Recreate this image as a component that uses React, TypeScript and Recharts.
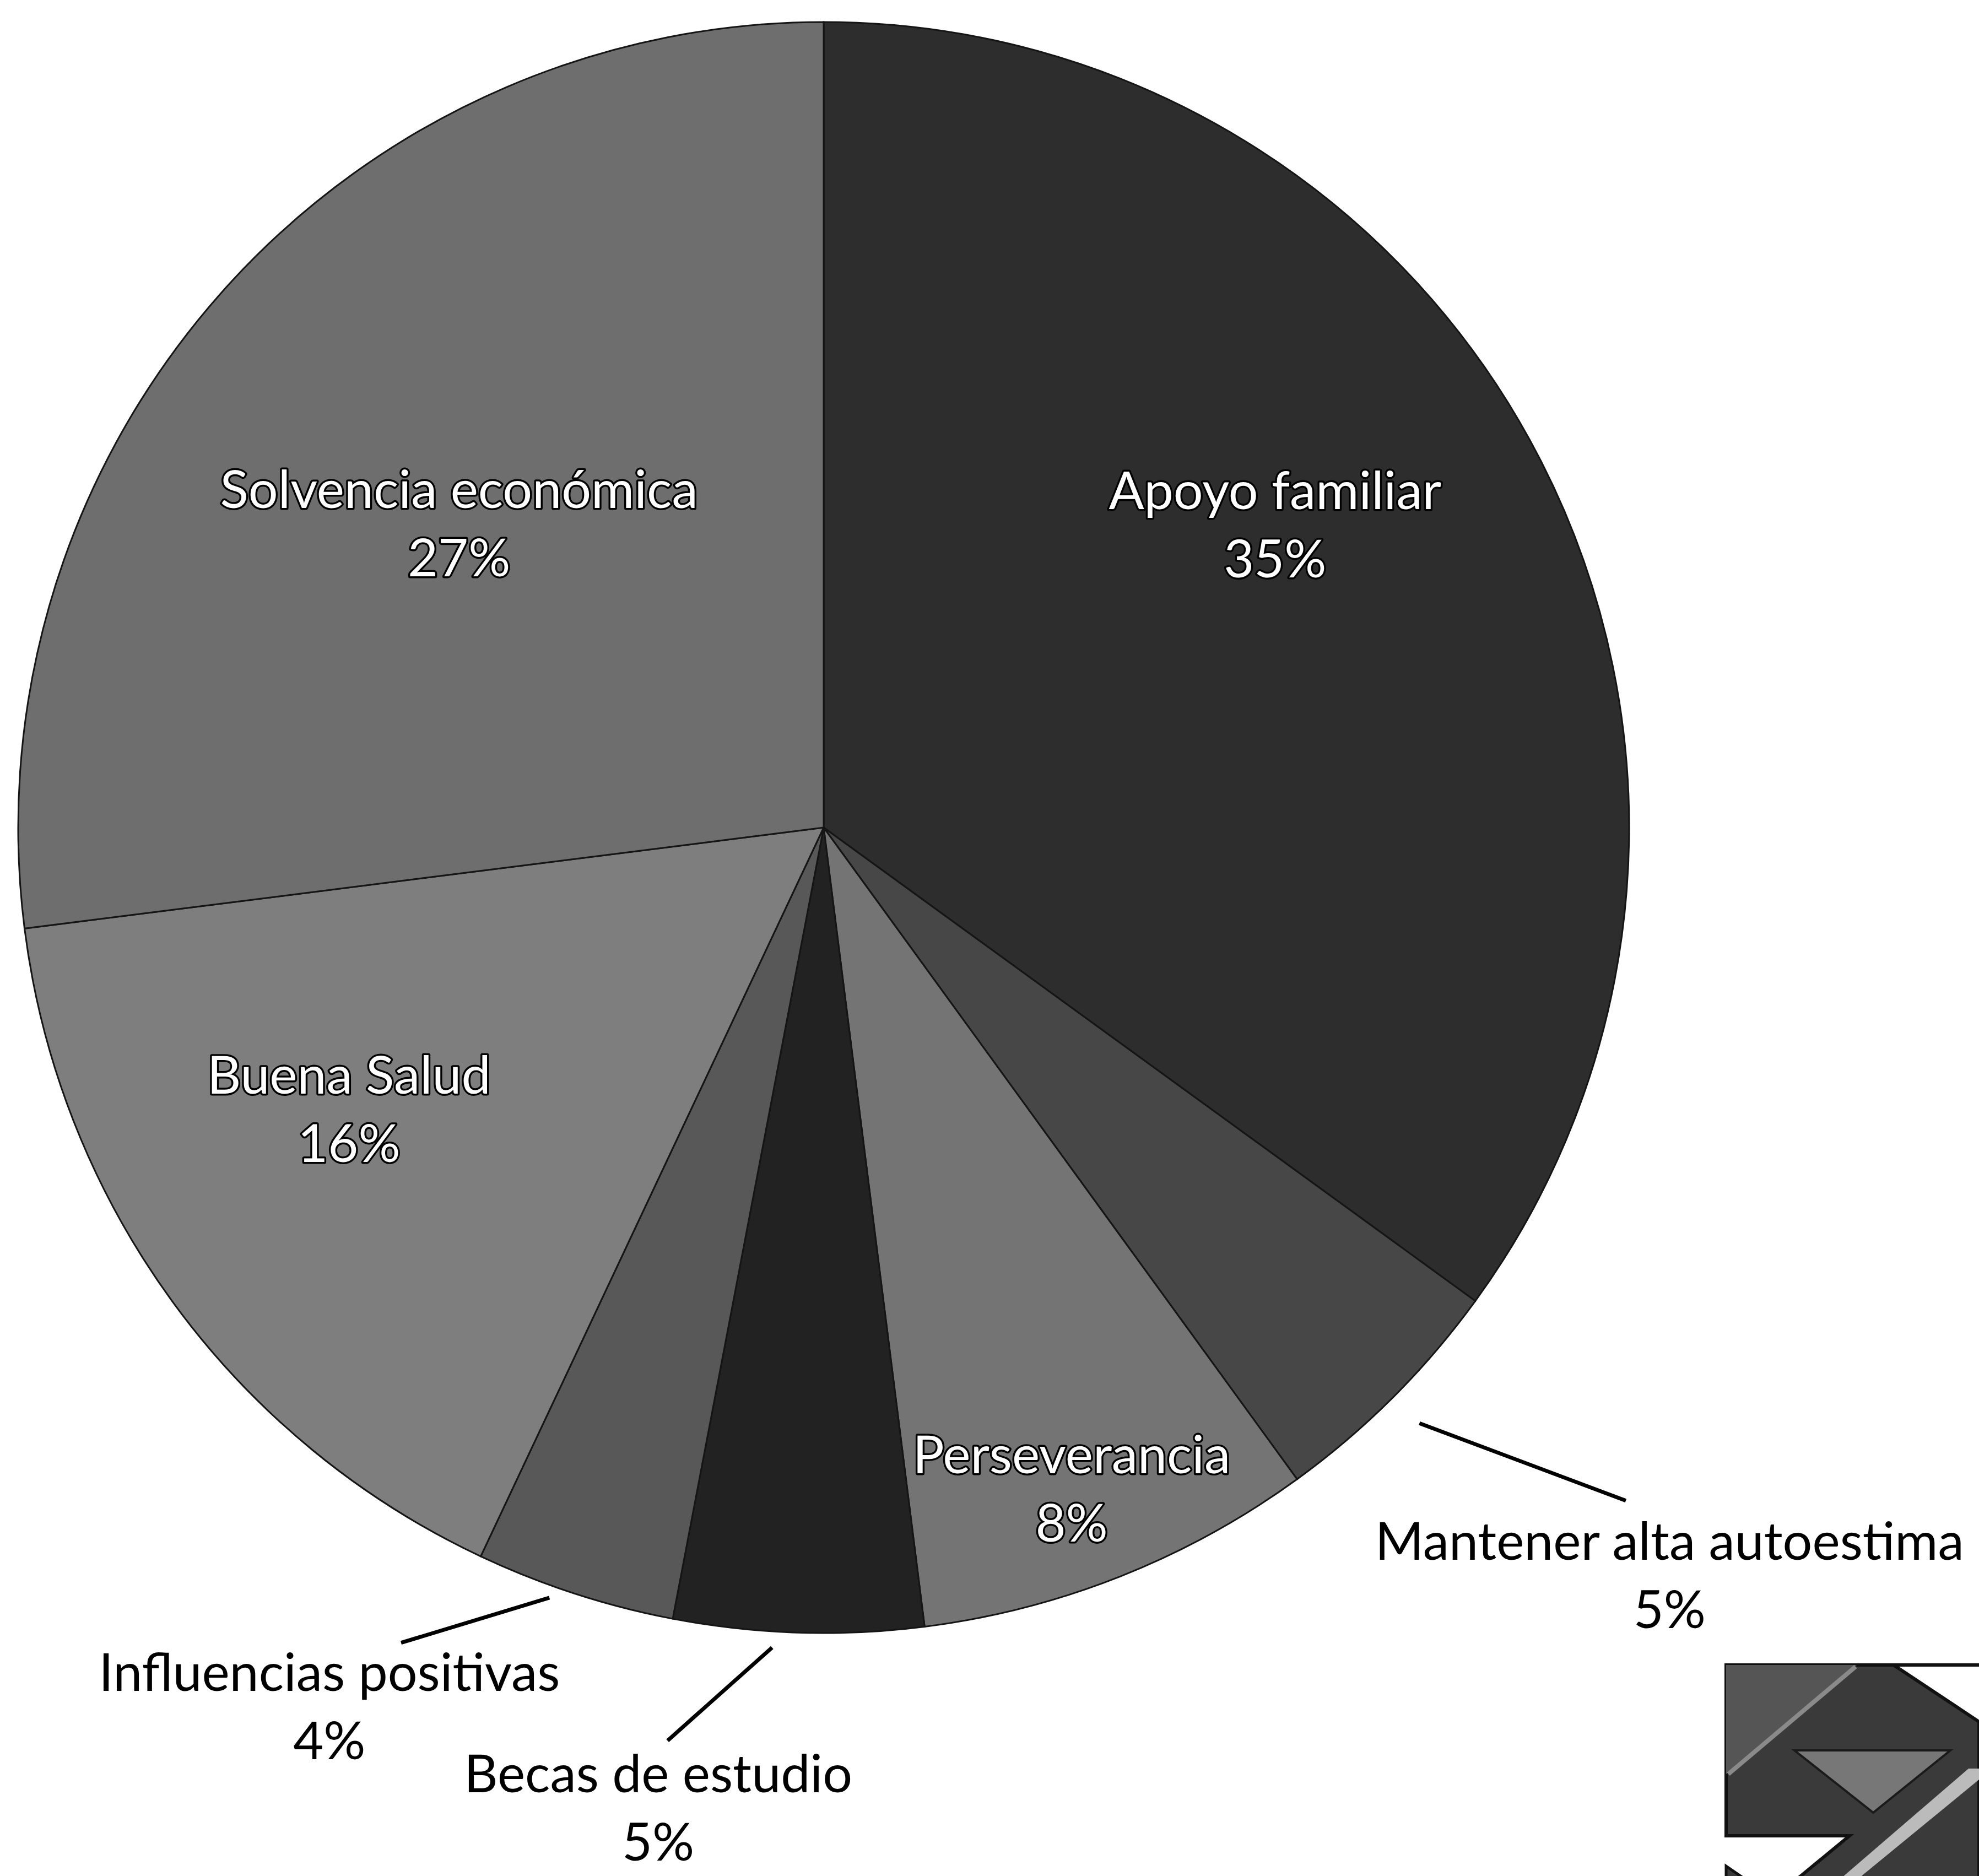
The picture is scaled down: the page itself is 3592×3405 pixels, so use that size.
import { PieChart, Pie, Cell } from "recharts";

const categories = [
  "Apoyo familiar",
  "Mantener alta autoestima",
  "Perseverancia",
  "Becas de estudio",
  "Influencias positivas",
  "Buena Salud",
  "Solvencia económica",
];
const percentages = [35, 5, 8, 5, 4, 16, 27];
const sliceColors = ["#2d2d2d", "#474747", "#747474", "#222222", "#585858", "#7e7e7e", "#6e6e6e"];

const data = categories.map((name, i) => ({ name, value: percentages[i] }));

// label placement in polar terms: nudge in degrees from the slice middle (clockwise),
// distance as a fraction of the outer radius
const labelPlacement: Record<string, any> = {
  "Apoyo familiar": { nudge: -7, r: 0.676, inside: true },
  "Mantener alta autoestima": { nudge: -3.6, r: 1.4, line: [0, 1.046, -5, 1.3] },
  Perseverancia: { nudge: 1, r: 0.875, inside: true },
  "Becas de estudio": { nudge: 7.8, r: 1.232, line: [1.8, 1.02, 7.9, 1.15] },
  "Influencias positivas": { nudge: 11.4, r: 1.25, line: [1.6, 1.015, 9.4, 1.14] },
  "Buena Salud": { nudge: 5.5, r: 0.684, inside: true },
  "Solvencia económica": { nudge: -1.4, r: 0.591, inside: true },
};

const FONT = "Lato, 'Open Sans', sans-serif";
const FONT_SIZE = 95;
const LINE_GAP = 124;

const polar = (cx: number, cy: number, r: number, clockDeg: number) => {
  const a = (clockDeg * Math.PI) / 180;
  return { x: cx + r * Math.sin(a), y: cy - r * Math.cos(a) };
};

const renderLabel = (props: any) => {
  const { cx, cy, midAngle, outerRadius, name, value } = props;
  const place = labelPlacement[name];
  const mid = 90 - midAngle; // clockwise from 12 o'clock
  const p = polar(cx, cy, outerRadius * place.r, mid + place.nudge);
  const textStyle = place.inside
    ? { fill: "#fff", stroke: "#000", strokeWidth: 7, paintOrder: "stroke" as const, strokeLinejoin: "round" as const }
    : { fill: "#000" };
  let line = null;
  if (place.line) {
    const [a1, r1, a2, r2] = place.line;
    const s = polar(cx, cy, outerRadius * r1, mid + a1);
    const e = polar(cx, cy, outerRadius * r2, mid + a2);
    line = <line x1={s.x} y1={s.y} x2={e.x} y2={e.y} stroke="#000" strokeWidth={7} />;
  }
  return (
    <g key={name}>
      {line}
      <text x={p.x} y={p.y - LINE_GAP / 2} textAnchor="middle" dominantBaseline="central"
        fontFamily={FONT} fontSize={FONT_SIZE} {...textStyle}>
        {name}
      </text>
      <text x={p.x} y={p.y + LINE_GAP / 2} textAnchor="middle" dominantBaseline="central"
        fontFamily={FONT} fontSize={FONT_SIZE} {...textStyle}>
        {value}%
      </text>
    </g>
  );
};

// scanned logo corner, bottom right
const Logo = () => (
  <svg width={3592} height={3405} style={{ position: "absolute", left: 0, top: 0, pointerEvents: "none" }}>
    <g transform="translate(0,40)">
      <polygon points="3133,2982 3437,2982 3592,3085 3592,3405 3220,3405 3357,3292 3133,3292"
        fill="#3a3a3a" stroke="#111" strokeWidth={6} />
      <polygon points="3133,2982 3370,2982 3133,3180" fill="#555" />
      <line x1={3137} y1={3180} x2={3368} y2={2985} stroke="#8a8a8a" strokeWidth={8} />
      <line x1={3437} y1={2982} x2={3592} y2={2982} stroke="#111" strokeWidth={6} />
      <polygon points="3257,3137 3540,3137 3400,3250" fill="#777" stroke="#1a1a1a" strokeWidth={4} />
      <polygon points="3300,3405 3573,3170 3592,3170 3592,3190 3330,3405" fill="#bbb" />
      <polygon points="3133,3347 3217,3405 3133,3405" fill="#3a3a3a" stroke="#111" strokeWidth={5} />
    </g>
  </svg>
);

export default function App() {
  return (
    <div style={{ position: "absolute", left: 0, top: 0, width: 3592, height: 3405, background: "#fff" }}>
      <PieChart width={3592} height={3405} margin={{ top: 0, right: 0, bottom: 0, left: 0 }}>
        <Pie
          data={data}
          dataKey="value"
          nameKey="name"
          cx={1495}
          cy={1502}
          outerRadius={1462}
          startAngle={90}
          endAngle={-270}
          stroke="#151515"
          strokeWidth={3}
          label={renderLabel}
          labelLine={false}
          isAnimationActive={false}
        >
          {data.map((d, i) => (
            <Cell key={d.name} fill={sliceColors[i]} />
          ))}
        </Pie>
      </PieChart>
      <Logo />
    </div>
  );
}
